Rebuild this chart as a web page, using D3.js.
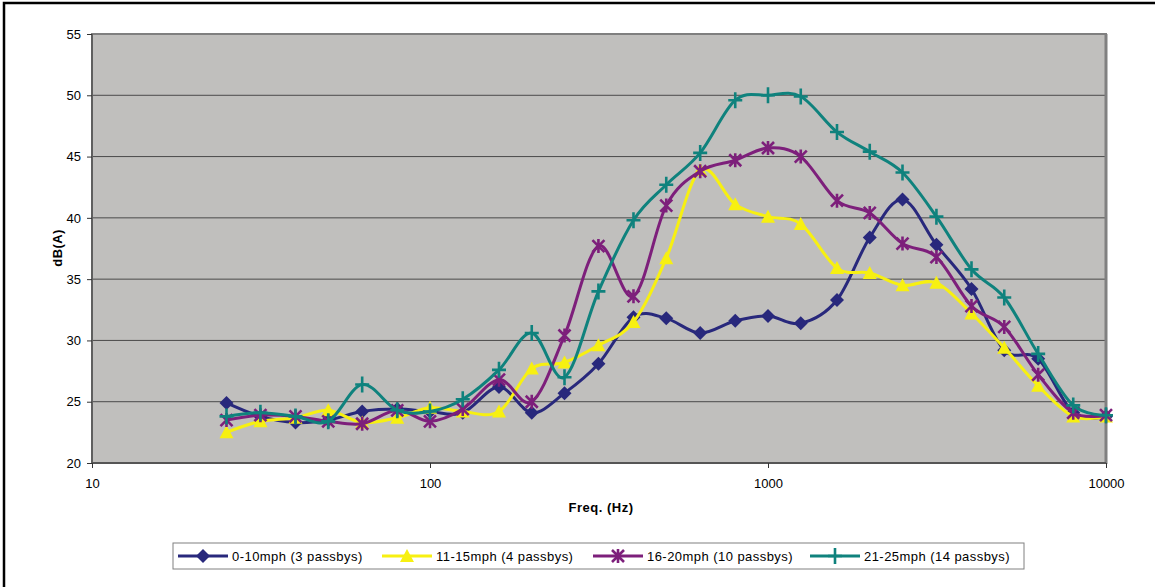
<!DOCTYPE html>
<html>
<head>
<meta charset="utf-8">
<script src="https://cdn.jsdelivr.net/npm/d3@7"></script>
<style>
  body { margin: 0; background: #fff; }
  text { font-family: "Liberation Sans", Arial, sans-serif; }
</style>
</head>
<body>
<div id="Graph"></div>
<script>
// third-octave band centres (Hz)
const freqs = [25, 31.5, 40, 50, 63, 80, 100, 125, 160, 200, 250, 315, 400, 500, 630,
               800, 1000, 1250, 1600, 2000, 2500, 3150, 4000, 5000, 6300, 8000, 10000];

const mph0_10  = [24.9, 23.8, 23.3, 23.5, 24.2, 24.4, 24.2, 24.1, 26.2, 24.1, 25.7, 28.1, 31.9, 31.8, 30.6,
                  31.6, 32.0, 31.4, 33.3, 38.4, 41.5, 37.8, 34.2, 29.2, 28.5, 24.1, 23.8];
const mph11_15 = [22.5, 23.4, 23.7, 24.3, 23.3, 23.7, 24.5, 24.2, 24.2, 27.7, 28.2, 29.6, 31.5, 36.7, 43.9,
                  41.1, 40.1, 39.5, 35.9, 35.5, 34.5, 34.7, 32.2, 29.4, 26.3, 23.8, 23.8];
const mph16_20 = [23.5, 23.9, 23.8, 23.4, 23.2, 24.3, 23.4, 24.4, 26.8, 25.0, 30.4, 37.7, 33.6, 41.0, 43.8,
                  44.7, 45.7, 45.0, 41.4, 40.4, 37.9, 36.8, 32.8, 31.1, 27.2, 24.1, 23.9];
const mph21_25 = [23.8, 24.1, 23.8, 23.4, 26.4, 24.3, 24.2, 25.2, 27.6, 30.6, 27.0, 34.0, 39.8, 42.7, 45.3,
                  49.6, 50.0, 49.9, 47.0, 45.4, 43.7, 40.1, 35.8, 33.5, 28.9, 24.7, 23.9];

const seriesNames = ["0-10mph (3 passbys)", "11-15mph (4 passbys)", "16-20mph (10 passbys)", "21-25mph (14 passbys)"];
const seriesColors = ["#28287c", "#f7f011", "#7d1f7b", "#0f827d"];
const seriesMarkers = ["diamond", "triangle", "star", "plus"];

const xTicks = [10, 100, 1000, 10000];
const yTicks = [20, 25, 30, 35, 40, 45, 50, 55];

const series = [mph0_10, mph11_15, mph16_20, mph21_25].map((vals, i) => ({
  name: seriesNames[i], color: seriesColors[i], marker: seriesMarkers[i],
  values: vals.map((v, j) => ({f: freqs[j], v: v}))
}));

const width = 1155, height = 587;
const plot = {left: 92, top: 34, right: 1106, bottom: 463};

const svg = d3.select("#Graph").append("svg")
  .attr("width", width)
  .attr("height", height);

// outer frame (only top and left edges visible)
svg.append("rect")
  .attr("x", 4).attr("y", 3)
  .attr("width", width + 20).attr("height", height + 20)
  .attr("fill", "#fff").attr("stroke", "#000").attr("stroke-width", 2.5);

const x = d3.scaleLog().domain([10, 10000]).range([plot.left, plot.right]);
const y = d3.scaleLinear().domain([20, 55]).range([plot.bottom, plot.top]);

// plot background
svg.append("rect")
  .attr("x", plot.left).attr("y", plot.top)
  .attr("width", plot.right - plot.left).attr("height", plot.bottom - plot.top)
  .attr("fill", "#c0bfbd");

// gridlines
svg.append("g")
  .selectAll("line")
  .data(yTicks.slice(1, -1))
  .enter().append("line")
  .attr("x1", plot.left).attr("x2", plot.right)
  .attr("y1", d => y(d)).attr("y2", d => y(d))
  .attr("stroke", "#4a4a4a").attr("stroke-width", 1);

// plot border
svg.append("rect")
  .attr("x", plot.left).attr("y", plot.top)
  .attr("width", plot.right - plot.left).attr("height", plot.bottom - plot.top)
  .attr("fill", "none").attr("stroke", "#7f7f7f").attr("stroke-width", 2);
svg.append("line")
  .attr("x1", plot.right).attr("x2", plot.right)
  .attr("y1", plot.top).attr("y2", plot.bottom + 1)
  .attr("stroke", "#808080").attr("stroke-width", 3);
svg.append("line")
  .attr("x1", plot.left).attr("x2", plot.right)
  .attr("y1", plot.bottom).attr("y2", plot.bottom)
  .attr("stroke", "#555").attr("stroke-width", 2);
svg.append("line")
  .attr("x1", plot.left).attr("x2", plot.left)
  .attr("y1", plot.top).attr("y2", plot.bottom)
  .attr("stroke", "#555").attr("stroke-width", 1.5);

// axes
const yAxis = svg.append("g")
  .attr("transform", `translate(${plot.left},0)`)
  .call(d3.axisLeft(y).tickValues(yTicks).tickSize(5).tickPadding(6));
yAxis.select(".domain").remove();
yAxis.selectAll("line").attr("stroke", "#333");
yAxis.selectAll("text").attr("font-size", 13).attr("fill", "#000")
  .style("font-family", "'Liberation Sans', Arial, sans-serif");

const xAxis = svg.append("g")
  .attr("transform", `translate(0,${plot.bottom})`)
  .call(d3.axisBottom(x).tickValues(xTicks).tickFormat(d3.format("d")).tickSize(5).tickPadding(11));
xAxis.select(".domain").remove();
xAxis.selectAll("line").attr("stroke", "#333");
xAxis.selectAll("text").attr("font-size", 13).attr("fill", "#000")
  .style("font-family", "'Liberation Sans', Arial, sans-serif");

// axis titles
svg.append("text")
  .attr("x", (plot.left + plot.right) / 2 + 2).attr("y", 512)
  .attr("text-anchor", "middle")
  .attr("font-size", 13).attr("font-weight", "bold")
  .attr("letter-spacing", 0.5)
  .text("Freq. (Hz)");

svg.append("text")
  .attr("transform", "translate(62,248) rotate(-90)")
  .attr("text-anchor", "middle")
  .attr("font-size", 13).attr("font-weight", "bold")
  .attr("letter-spacing", 0.4)
  .text("dB(A)");

// markers
function drawMarker(g, type, color) {
  if (type === "diamond") {
    g.append("path").attr("d", "M0,-7L7,0L0,7L-7,0Z").attr("fill", color);
  } else if (type === "triangle") {
    g.append("path").attr("d", "M0,-7L7,6L-7,6Z").attr("fill", color);
  } else if (type === "star") {
    g.append("path").attr("d", "M-6,-6L6,6M-6,6L6,-6M0,-7L0,7")
      .attr("stroke", color).attr("stroke-width", 2.6).attr("fill", "none");
  } else {
    g.append("path").attr("d", "M-7,0L7,0M0,-8L0,8")
      .attr("stroke", color).attr("stroke-width", 2.6).attr("fill", "none");
  }
}

const line = d3.line()
  .x(d => x(d.f))
  .y(d => y(d.v))
  .curve(d3.curveCardinal.tension(0));

const sg = svg.append("g")
  .selectAll("g")
  .data(series)
  .enter().append("g");

sg.append("path")
  .attr("d", d => line(d.values))
  .attr("fill", "none")
  .attr("stroke", d => d.color)
  .attr("stroke-width", 3);

sg.each(function(s) {
  d3.select(this).selectAll("g.mk")
    .data(s.values)
    .enter().append("g")
    .attr("class", "mk")
    .attr("transform", d => `translate(${x(d.f)},${y(d.v)})`)
    .each(function() { drawMarker(d3.select(this), s.marker, s.color); });
});

// legend
const legend = svg.append("g").attr("id", "legend");
legend.append("rect")
  .attr("x", 173).attr("y", 543)
  .attr("width", 851).attr("height", 26)
  .attr("fill", "#fff").attr("stroke", "#808080").attr("stroke-width", 1);

const legendX = [178, 382, 593, 810];
const li = legend.selectAll("g.item")
  .data(series)
  .enter().append("g")
  .attr("class", "item")
  .attr("transform", (d, i) => `translate(${legendX[i]},556)`);

li.append("line")
  .attr("x1", 0).attr("x2", 50)
  .attr("stroke", d => d.color).attr("stroke-width", 3);
li.append("g")
  .attr("transform", "translate(25,0)")
  .each(function(d) { drawMarker(d3.select(this), d.marker, d.color); });
li.append("text")
  .attr("x", 54).attr("y", 5)
  .attr("font-size", 13)
  .attr("letter-spacing", 0.45)
  .text(d => d.name);
</script>
</body>
</html>
